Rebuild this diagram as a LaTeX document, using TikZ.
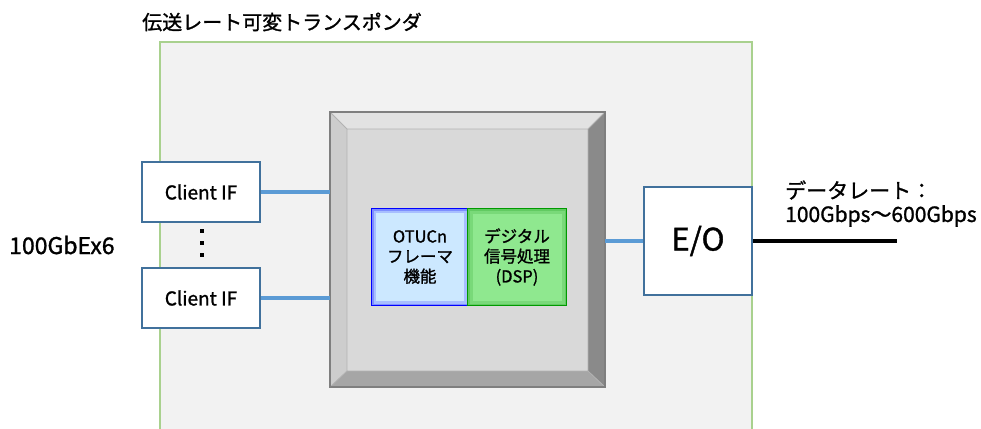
\documentclass[tikz,border=0pt]{standalone}
\usepackage{fontspec}
\setmainfont{Noto Sans CJK JP}[FakeBold=1.2]
\definecolor{bgpanel}{HTML}{F2F2F2}
\definecolor{panelline}{HTML}{A9D18E}
\definecolor{boxline}{HTML}{41719C}
\definecolor{linkblue}{HTML}{5B9BD5}
\definecolor{bevtop}{HTML}{E2E2E2}
\definecolor{bevleft}{HTML}{CDCDCD}
\definecolor{bevright}{HTML}{8A8A8A}
\definecolor{bevbot}{HTML}{A6A6A6}
\definecolor{bevface}{HTML}{D9D9D9}
\definecolor{bevedge}{HTML}{7F7F7F}
\definecolor{otufill}{HTML}{CCE8FF}
\definecolor{otuline}{HTML}{0000FF}
\definecolor{dspfill}{HTML}{8FE88F}
\definecolor{dspline}{HTML}{009A00}
\definecolor{dspglow}{HTML}{2FA82F}
\begin{document}
\begin{tikzpicture}[x=1pt,y=-1pt,
  ifbox/.style={draw=boxline, line width=2.2pt, fill=white, minimum width=118pt, minimum height=60pt, inner sep=0pt, font=\fontsize{19}{22}\selectfont},
  eobox/.style={draw=boxline, line width=2.2pt, fill=white, minimum width=108pt, minimum height=108pt, inner sep=0pt, font=\fontsize{31}{34}\selectfont},
  link/.style={draw=linkblue, line width=3.2pt},
  otubox/.style={draw=otuline, line width=1.6pt, fill=otufill, minimum width=97pt, minimum height=97pt, inner sep=0pt, align=center, font=\fontsize{16.5}{20}\selectfont,
    path picture={\draw[otuline, opacity=.18, line width=9pt] (path picture bounding box.south west) rectangle (path picture bounding box.north east);
                  \draw[otuline, opacity=.25, line width=4pt] (path picture bounding box.south west) rectangle (path picture bounding box.north east);}},
  dspbox/.style={draw=dspline, line width=1.6pt, fill=dspfill, minimum width=99pt, minimum height=97pt, inner sep=0pt, align=center, font=\fontsize{16.5}{20}\selectfont,
    path picture={\draw[dspglow, opacity=.22, line width=10pt] (path picture bounding box.south west) rectangle (path picture bounding box.north east);
                  \draw[dspglow, opacity=.3, line width=4pt] (path picture bounding box.south west) rectangle (path picture bounding box.north east);}},
  lbl/.style={inner sep=0pt, anchor=west}
]
\useasboundingbox (0,0) rectangle (981,428);
\clip (0,0) rectangle (981,428);
\fill[white] (0,0) rectangle (981,428);
% outer panel
\draw[panelline, line width=2.2pt, fill=bgpanel] (160,42) rectangle (752,440);
\node[lbl, font=\fontsize{20}{22}\selectfont] (title) at (142,22) {伝送レート可変トランスポンダ};
% bevel block
\node[minimum width=275pt, minimum height=275pt, inner sep=0pt] (bev) at (467.5,249.5) {};
\fill[bevtop] (330,112) -- (605,112) -- (588,129) -- (347,129) -- cycle;
\fill[bevleft] (330,112) -- (347,129) -- (347,371) -- (330,387) -- cycle;
\fill[bevright] (605,112) -- (605,387) -- (588,371) -- (588,129) -- cycle;
\fill[bevbot] (330,387) -- (605,387) -- (588,371) -- (347,371) -- cycle;
\fill[bevface] (347,129) rectangle (588,371);
\draw[bevedge!60, line width=0.8pt] (347,129) rectangle (588,371)
  (330,112) -- (347,129) (605,112) -- (588,129) (330,387) -- (347,371) (605,387) -- (588,371);
\draw[bevedge, line width=1.5pt] (330,112) rectangle (605,387);
% inner function boxes
\node[otubox] (otu) at (420,257) {OTUCn\\フレーマ\\機能};
\node[dspbox] (dsp) at (517,257) {デジタル\\信号処理\\(DSP)};
% client interfaces
\node[ifbox] (c1) at (201,192) {Client IF};
\node[ifbox] (c2) at (201,298) {Client IF};
\fill[black] (200,229) rectangle (204,233);
\fill[black] (200,241) rectangle (204,245);
\fill[black] (200,253) rectangle (204,257);
\node[lbl, font=\fontsize{23}{26}\selectfont] (gbe) at (9,245) {100GbEx6};
\draw[link] (c1.east) -- (c1.east -| bev.west);
\draw[link] (c2.east) -- (c2.east -| bev.west);
% E/O
\node[eobox] (eo) at (698,241) {E/O};
\draw[link] (eo.west -| bev.east) -- (eo.west);
\coordinate (out) at (897,241);
\draw[black, line width=3.2pt] (eo.east) -- (out);
\node[lbl, font=\fontsize{21}{24}\selectfont] (rate1) at (785,190) {データレート：};
\node[lbl, font=\fontsize{21}{24}\selectfont] (rate2) at (785,216) {100Gbps～600Gbps};
\end{tikzpicture}
\end{document}
